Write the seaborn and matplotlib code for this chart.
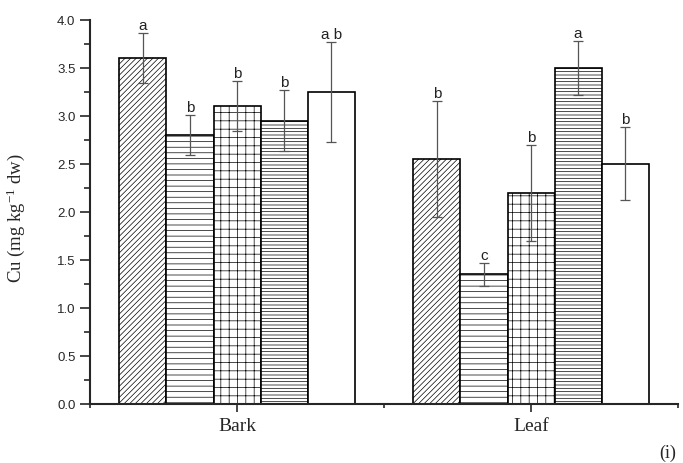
import numpy as np
import pandas as pd
import seaborn as sns
import matplotlib.pyplot as plt
from matplotlib.ticker import MultipleLocator, FixedLocator

tissues = ['Bark', 'Leaf']
treatments = ['T1', 'T2', 'T3', 'T4', 'T5']
bark_mean = [3.60, 2.80, 3.10, 2.95, 3.25]
bark_err = [0.26, 0.21, 0.26, 0.32, 0.52]
bark_letters = ['a', 'b', 'b', 'b', 'a b']
leaf_mean = [2.55, 1.35, 2.20, 3.50, 2.50]
leaf_err = [0.60, 0.12, 0.50, 0.28, 0.38]
leaf_letters = ['b', 'c', 'b', 'a', 'b']
hatches = ['//////', '---', '++', '-----', '']

df = pd.DataFrame({
    'tissue': np.repeat(tissues, len(treatments)),
    'treatment': treatments * 2,
    'cu': bark_mean + leaf_mean,
    'err': bark_err + leaf_err,
    'letter': bark_letters + leaf_letters,
})

sns.set_style('ticks')
plt.rcParams['font.family'] = ['Liberation Sans', 'DejaVu Sans']
plt.rcParams['mathtext.default'] = 'regular'
plt.rcParams['hatch.linewidth'] = 0.5

fig = plt.figure(figsize=(6.83, 4.64), dpi=100)
ax = fig.add_axes([0.1318, 0.1272, 0.861, 0.8282])
sns.barplot(data=df, x='tissue', y='cu', hue='treatment', order=tissues,
            hue_order=treatments, errorbar=None, width=0.8, gap=0,
            palette=['white'] * 5, edgecolor='black', linewidth=1.2,
            legend=False, ax=ax)

# bar containers only (errorbars get added to ax.containers below)
bar_conts = list(ax.containers)
for i, cont in enumerate(bar_conts):
    for j, bar in enumerate(cont):
        bar.set_hatch(hatches[i])
        bar.set_facecolor('white')
        bar.set_edgecolor('black')
        row = df[(df['tissue'] == tissues[j]) & (df['treatment'] == treatments[i])].iloc[0]
        x = bar.get_x() + bar.get_width() / 2
        y = bar.get_height()
        ax.errorbar(x, y, yerr=row['err'], color='#555555', capsize=3.6,
                    elinewidth=0.9, capthick=0.9, zorder=5)
        ax.text(x, y + row['err'] + 0.01, row['letter'], ha='center',
                va='bottom', fontsize=11, color='#222222', zorder=6)

ax.set_xlim(-0.5, 1.5)
ax.set_ylim(0, 4.0)
ax.yaxis.set_major_locator(MultipleLocator(0.5))
ax.yaxis.set_minor_locator(MultipleLocator(0.25))
ax.xaxis.set_minor_locator(FixedLocator([-0.5, 0.5, 1.5]))
ax.yaxis.set_major_formatter(plt.FormatStrFormatter('%.1f'))
sns.despine(ax=ax)
for s in ['left', 'bottom']:
    ax.spines[s].set_linewidth(1.5)
ax.tick_params(axis='y', which='major', length=7, width=1.2, labelsize=9.5)
ax.tick_params(axis='y', which='minor', length=4, width=1.2)
ax.tick_params(axis='x', which='major', length=6, width=1.2, labelsize=14)
ax.tick_params(axis='x', which='minor', length=3, width=1.2)
for lab in ax.get_xticklabels():
    lab.set_family('Liberation Serif')

ax.set_xlabel('')
ax.set_ylabel('Cu (mg kg$^{-1}$ dw)', family='Liberation Serif', fontsize=13.5)
ax.yaxis.set_label_coords(-0.107, 0.485)

fig.text(0.978, 0.024, '(i)', ha='center', va='center', fontsize=13,
         family='Liberation Serif')

fig.savefig('out.png', dpi=100)
